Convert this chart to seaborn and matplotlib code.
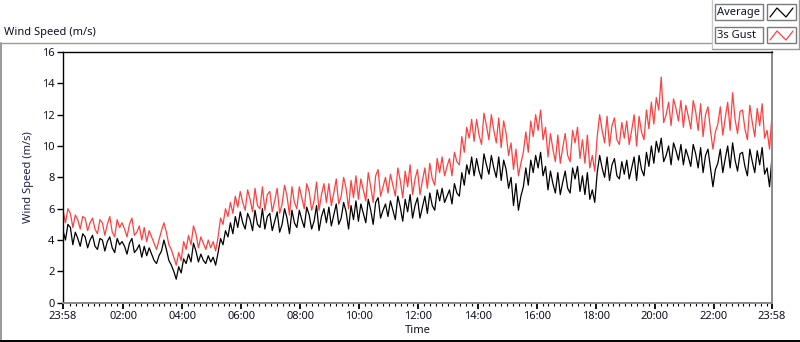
import numpy as np
import pandas as pd
import matplotlib
matplotlib.use("Agg")
import matplotlib.pyplot as plt
import matplotlib.dates as mdates
from matplotlib.lines import Line2D
from matplotlib.patches import Rectangle
import seaborn as sns

# ---- Data: 5-minute readings from 23:58 to 23:58 (one row per hour) ----
average = [
    4.6, 4.0, 5.0, 4.8, 3.7, 4.5, 4.1, 3.6, 4.4, 4.2, 3.5, 4.0,
    4.3, 3.6, 3.4, 4.1, 4.0, 3.3, 3.9, 4.2, 3.5, 3.2, 4.1, 3.7,
    3.9, 3.6, 3.1, 3.8, 4.1, 3.2, 3.4, 3.7, 2.9, 3.6, 3.0, 3.5,
    3.1, 2.7, 2.5, 3.0, 3.3, 4.0, 3.4, 2.7, 2.4, 2.0, 1.5, 2.3,
    1.9, 2.8, 2.5, 3.1, 2.6, 3.8, 3.3, 2.6, 3.1, 2.7, 2.5, 3.0,
    2.6, 2.9, 2.4, 3.2, 4.1, 3.7, 4.6, 4.2, 5.1, 4.4, 5.5, 4.8,
    5.8, 5.1, 4.7, 5.7, 5.3, 4.6, 5.9, 5.0, 4.8, 6.0, 4.7, 5.5,
    5.7, 4.6, 5.2, 5.8, 4.5, 5.0, 6.0, 5.4, 4.4, 5.9, 5.1, 4.8,
    5.9, 5.3, 4.8, 6.1, 5.6, 4.7, 5.2, 6.2, 4.6, 5.5, 6.0, 5.1,
    6.1, 4.9, 5.6, 6.3, 5.0, 5.4, 6.4, 5.8, 4.7, 6.2, 5.3, 6.5,
    5.2, 6.3, 5.7, 5.1, 6.6, 5.9, 5.0, 6.4, 6.7, 5.4, 5.9, 6.3,
    5.5, 6.5, 5.9, 5.3, 6.8, 6.1, 5.2, 6.6, 5.8, 6.9, 5.4, 6.2,
    6.7, 5.4, 6.1, 6.8, 5.7, 7.0, 6.2, 5.9, 7.2, 6.5, 7.3, 6.4,
    6.8, 7.2, 6.3, 7.6, 7.0, 6.8, 8.3, 7.5, 8.8, 8.2, 9.3, 8.1,
    9.2, 8.4, 7.9, 9.5, 8.8, 8.2, 9.4, 8.6, 8.0, 9.3, 7.8, 9.1,
    8.5, 7.3, 8.0, 6.2, 7.6, 5.9, 6.8, 7.4, 8.6, 7.5, 9.1, 8.3,
    9.4, 8.6, 9.6, 8.1, 8.7, 7.2, 8.4, 7.6, 7.0, 8.3, 6.9, 7.7,
    8.4, 7.3, 7.0, 8.6, 7.9, 8.7, 7.1, 8.1, 6.9, 8.3, 6.6, 7.2,
    6.4, 8.3, 9.4, 8.6, 8.0, 9.3, 7.8, 8.8, 9.2, 8.1, 7.9, 9.0,
    8.2, 9.1, 7.9, 8.6, 9.3, 7.8, 9.4, 8.5, 8.1, 9.6, 8.7, 10.0,
    8.9, 10.3, 9.6, 10.5, 9.0, 9.4, 10.0, 8.8, 10.2, 9.7, 9.1, 10.1,
    8.8, 9.8, 9.3, 8.7, 10.1, 9.5, 8.6, 9.9, 8.3, 9.4, 9.8, 8.6,
    7.4, 8.5, 8.9, 9.8, 8.3, 9.2, 10.0, 8.6, 10.2, 9.1, 8.4, 9.5,
    9.6, 8.7, 8.1, 9.8, 9.0, 8.3, 9.7, 8.8, 9.9, 8.2, 8.6, 7.4,
    9.3,
]

gust = [
    5.9, 5.1, 6.0, 5.7, 4.8, 5.6, 5.3, 4.7, 5.5, 5.4, 4.6, 5.1,
    5.4, 4.7, 4.4, 5.3, 5.1, 4.3, 5.0, 5.5, 4.5, 4.2, 5.3, 4.8,
    5.1, 4.7, 4.2, 5.0, 5.4, 4.3, 4.5, 4.9, 4.0, 4.8, 3.9, 4.6,
    4.2, 3.8, 3.4, 4.0, 4.6, 5.1, 4.5, 3.7, 3.4, 2.9, 2.4, 3.2,
    2.7, 3.9, 3.4, 4.3, 3.7, 4.9, 4.4, 3.5, 4.2, 3.8, 3.4, 4.0,
    3.5, 3.9, 3.3, 4.2, 5.4, 5.0, 6.0, 5.5, 6.4, 5.7, 6.8, 6.1,
    7.1, 6.4, 5.9, 7.2, 6.6, 5.8, 7.3, 6.2, 6.0, 7.4, 5.9, 6.9,
    7.1, 5.8, 6.5, 7.3, 5.7, 6.3, 7.5, 6.8, 5.6, 7.4, 6.4, 6.0,
    7.4, 6.7, 6.0, 7.6, 7.1, 5.9, 6.5, 7.7, 5.9, 6.9, 7.6, 6.4,
    7.6, 6.2, 7.0, 7.9, 6.3, 6.8, 8.0, 7.3, 6.0, 7.8, 6.7, 8.1,
    6.6, 7.9, 7.2, 6.5, 8.3, 7.4, 6.4, 8.1, 8.5, 6.8, 7.4, 8.0,
    7.0, 8.2, 7.5, 6.8, 8.6, 7.8, 6.7, 8.4, 7.4, 8.8, 6.9, 7.9,
    8.5, 6.9, 7.8, 8.6, 7.3, 8.9, 7.9, 7.5, 9.2, 8.3, 9.3, 8.1,
    8.7, 9.2, 8.1, 9.6, 9.0, 8.8, 10.6, 9.6, 11.2, 10.5, 11.7, 10.3,
    11.7, 10.7, 10.1, 12.1, 11.3, 10.4, 12.0, 11.0, 10.2, 11.8, 9.9, 11.6,
    10.8, 9.4, 10.2, 8.5, 9.8, 8.1, 8.9, 9.6, 10.9, 9.6, 11.6, 10.6,
    12.0, 11.0, 12.3, 10.4, 11.2, 9.3, 10.8, 9.8, 9.0, 10.7, 8.9, 9.9,
    10.8, 9.4, 9.0, 11.0, 10.2, 11.2, 9.2, 10.4, 8.9, 10.7, 8.6, 9.4,
    8.4, 10.6, 12.0, 11.0, 10.2, 11.9, 10.0, 11.3, 11.8, 10.4, 10.1, 11.5,
    10.5, 11.6, 10.1, 11.0, 12.0, 10.0, 11.9, 10.9, 10.4, 12.3, 11.1, 12.8,
    11.4, 13.1, 12.3, 14.4, 11.5, 12.0, 12.8, 11.3, 13.0, 12.4, 11.6, 12.9,
    11.2, 12.6, 11.9, 11.1, 12.9, 12.2, 11.0, 12.7, 10.6, 12.0, 12.5, 11.0,
    9.8, 10.9, 11.4, 12.5, 10.7, 11.8, 12.8, 11.0, 13.4, 11.7, 10.8, 12.2,
    12.3, 11.1, 10.4, 12.6, 11.5, 10.6, 12.4, 11.3, 12.7, 10.5, 11.0, 9.8,
    12.0,
]

series_names = ["Average", "3s Gust"]
times = pd.date_range("2020-01-01 23:58", periods=len(average), freq="5min")

df = pd.DataFrame({
    "Time": np.concatenate([times, times]),
    "Speed": average + gust,
    "Series": [series_names[0]] * len(average) + [series_names[1]] * len(gust),
})

# ---- Style ----
sns.set_style("white")
plt.rcParams["font.family"] = ["Noto Sans", "DejaVu Sans"]
TXT = "#101028"

fig = plt.figure(figsize=(8, 3.42), dpi=100)
W, H = 800, 342
ax = fig.add_axes([63 / W, 1 - 302.7 / H, (772 - 63) / W, (302.7 - 52) / H])

sns.lineplot(data=df, x="Time", y="Speed", hue="Series",
             palette={"Average": "black", "3s Gust": "#ff4040"},
             linewidth=0.9, legend=False, ax=ax, estimator=None)

# ---- Axes ----
start, end = times[0], times[-1]
ax.set_xlim(start, end)
ax.set_ylim(0, 16)
ax.set_yticks(range(0, 17, 2))

major = [start] + list(pd.date_range("2020-01-02 02:00", "2020-01-02 22:00", freq="2h")) + [end]
ax.xaxis.set_major_locator(matplotlib.ticker.FixedLocator(mdates.date2num(major)))
ax.set_xticklabels([t.strftime("%H:%M") for t in major])
minor = pd.date_range("2020-01-02 00:12", "2020-01-02 23:48", freq="12min")
ax.xaxis.set_minor_locator(matplotlib.ticker.FixedLocator(mdates.date2num(minor)))

ax.tick_params(axis="both", which="major", direction="out", length=4, width=1,
               labelsize=8, colors="black", labelcolor=TXT, pad=2)
ax.tick_params(axis="x", which="minor", direction="out", length=2.5, width=0.8,
               colors="black", bottom=True)
ax.tick_params(axis="x", which="major", bottom=True, width=1.3)
ax.tick_params(axis="y", which="major", left=True)

for side in ["top", "left"]:
    ax.spines[side].set_color("black")
    ax.spines[side].set_linewidth(1.0)
for side in ["bottom", "right"]:
    ax.spines[side].set_color("#8a8a8a")
    ax.spines[side].set_linewidth(1.4)

ax.set_xlabel("Time", fontsize=8, color=TXT, labelpad=2)
ax.set_ylabel("Wind Speed (m/s)", fontsize=8, color="#1c2050", labelpad=6)
ax.grid(False)

# ---- Chart caption and frame ----
fig.text(4 / W, 1 - 32 / H, "Wind Speed (m/s)", fontsize=8, color=TXT,
         ha="left", va="center")

def px_line(x0, y0, x1, y1, color, lw=1.0):
    fig.add_artist(Line2D([x0 / W, x1 / W], [1 - y0 / H, 1 - y1 / H],
                          color=color, linewidth=lw, transform=fig.transFigure))

px_line(0.5, 42.5, 712, 42.5, "#9a9a9a")
px_line(0.5, 42.5, 0.5, 342, "#9a9a9a", 1.4)
px_line(712, 0, 712, 49, "#c8c8c8")
px_line(712, 49, 800, 49, "#9a9a9a")
px_line(799, 0, 799, 49, "#9a9a9a")
px_line(0, 340.5, 800, 340.5, "black", 1.4)

# ---- LabVIEW-style legend ----
legend_colors = ["black", "#ff4040"]
for i, (name, col) in enumerate(zip(series_names, legend_colors)):
    top = 4 + i * 23
    fig.add_artist(Rectangle((715 / W, 1 - (top + 16) / H), 48 / W, 16 / H,
                             transform=fig.transFigure, facecolor="white",
                             edgecolor="#7a7a7a", linewidth=1.0))
    fig.text(717 / W, 1 - (top + 8) / H, name, fontsize=8, color=TXT,
             ha="left", va="center")
    fig.add_artist(Rectangle((767 / W, 1 - (top + 16) / H), 29 / W, 16 / H,
                             transform=fig.transFigure, facecolor="white",
                             edgecolor="#7a7a7a", linewidth=1.0))
    zx = np.array([770, 777, 786, 793]) / W
    zy = 1 - np.array([top + 13, top + 4, top + 13, top + 4]) / H
    fig.add_artist(Line2D(zx, zy, color=col, linewidth=0.9,
                          transform=fig.transFigure))

fig.savefig("out.png", dpi=100)
